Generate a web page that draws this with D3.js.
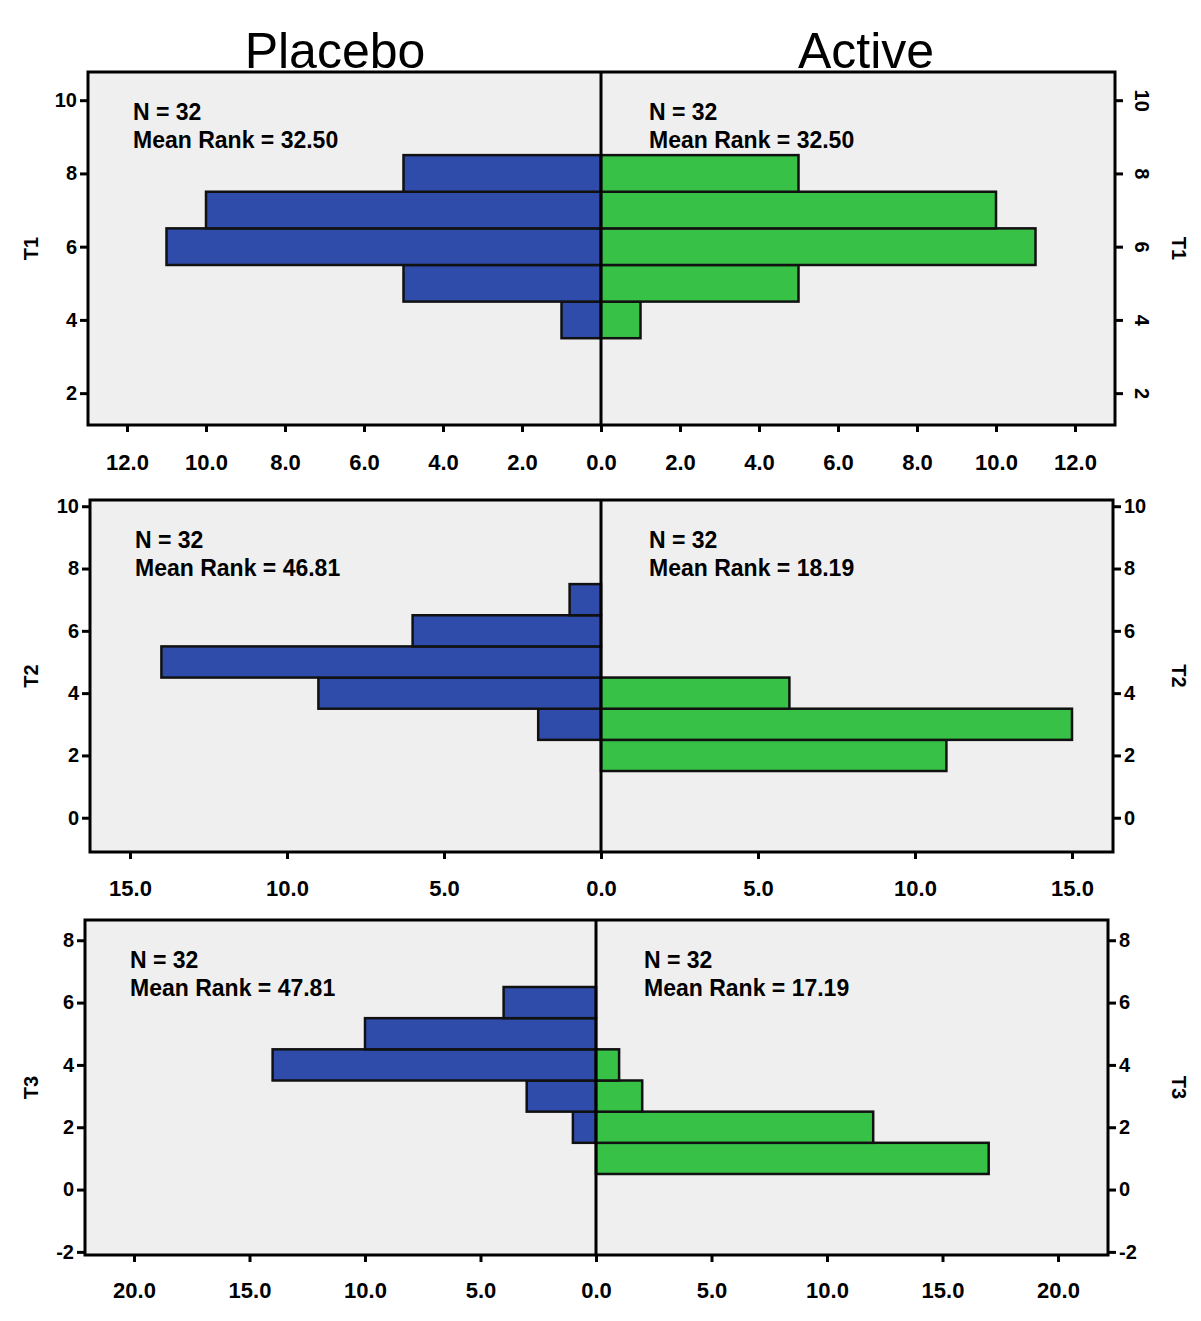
<!DOCTYPE html><html><head><meta charset="utf-8">
<script src="https://cdn.jsdelivr.net/npm/d3@7"></script>
<style>body{margin:0;background:#fff}text{font-family:"Liberation Sans",Arial,sans-serif}</style></head>
<body><svg id="c" width="1201" height="1321"></svg>
<script>
const groups=["Placebo","Active"];
const t1Values=[4,5,6,7,8], t1Placebo=[1,5,11,10,5], t1Active=[1,5,11,10,5];
const t2Values=[2,3,4,5,6,7], t2Placebo=[0,2,9,14,6,1], t2Active=[11,15,6,0,0,0];
const t3Values=[1,2,3,4,5,6], t3Placebo=[0,1,3,14,10,4], t3Active=[17,12,2,1,0,0];
const t1Ticks=[2,4,6,8,10], t2Ticks=[0,2,4,6,8,10], t3Ticks=[-2,0,2,4,6,8];
const t1X=[0,2,4,6,8,10,12], t2X=[0,5,10,15], t3X=[0,5,10,15,20];
const stats=[["N = 32","Mean Rank = 32.50","N = 32","Mean Rank = 32.50"],
 ["N = 32","Mean Rank = 46.81","N = 32","Mean Rank = 18.19"],
 ["N = 32","Mean Rank = 47.81","N = 32","Mean Rank = 17.19"]];
const panels=[
 {name:"T1",vals:t1Values,pl:t1Placebo,ac:t1Active,yt:t1Ticks,xt:t1X,x0:88,x1:1115,y0:72,y1:425,cx:601,xmax:12,xpx:474,yd:[1.13,10.77],lab:462,rot:true},
 {name:"T2",vals:t2Values,pl:t2Placebo,ac:t2Active,yt:t2Ticks,xt:t2X,x0:90,x1:1113,y0:500,y1:852,cx:601,xmax:15,xpx:471,yd:[-1.1,10.2],lab:888,rot:false},
 {name:"T3",vals:t3Values,pl:t3Placebo,ac:t3Active,yt:t3Ticks,xt:t3X,x0:85,x1:1108,y0:920,y1:1255,cx:596,xmax:20,xpx:462,yd:[-2.1,8.65],lab:1290,rot:false}];
const svg=d3.select("#c");
svg.append("text").attr("x",335).attr("y",68).attr("text-anchor","middle").attr("font-size",50).text(groups[0]);
svg.append("text").attr("x",866).attr("y",68).attr("text-anchor","middle").attr("font-size",50).text(groups[1]);
const yf=d=>String(d);
panels.forEach((p,i)=>{
 const g=svg.append("g");
 g.append("rect").attr("x",p.x0).attr("y",p.y0).attr("width",p.x1-p.x0).attr("height",p.y1-p.y0).attr("fill","#efefef").attr("stroke","#000").attr("stroke-width",3);
 const y=d3.scaleLinear().domain(p.yd).range([p.y1,p.y0]);
 const xr=d3.scaleLinear().domain([0,p.xmax]).range([p.cx,p.cx+p.xpx]);
 const xl=d3.scaleLinear().domain([0,p.xmax]).range([p.cx,p.cx-p.xpx]);
 const bar=(arr,sc,col)=>g.selectAll(null).data(p.vals.map((v,k)=>({v,c:arr[k]})).filter(d=>d.c>0)).enter().append("rect")
  .attr("x",d=>Math.min(sc(0),sc(d.c))).attr("width",d=>Math.abs(sc(d.c)-sc(0)))
  .attr("y",d=>y(d.v+0.5)).attr("height",d=>y(d.v-0.5)-y(d.v+0.5))
  .attr("fill",col).attr("stroke","#111").attr("stroke-width",2.5);
 bar(p.pl,xl,"#2f4caa"); bar(p.ac,xr,"#37c247");
 g.append("line").attr("x1",p.cx).attr("x2",p.cx).attr("y1",p.y0).attr("y2",p.y1).attr("stroke","#000").attr("stroke-width",3);
 const la=g.append("g").attr("transform",`translate(${p.x0},0)`).call(d3.axisLeft(y).tickValues(p.yt).tickSize(8).tickFormat(yf));
 const ra=g.append("g").attr("transform",`translate(${p.x1},0)`).call(d3.axisRight(y).tickValues(p.yt).tickSize(8).tickFormat(yf));
 [la,ra].forEach(a=>{a.select(".domain").remove();a.selectAll("line").attr("stroke-width",3);a.selectAll("text").attr("font-size",20).attr("font-weight","bold");});
 if(p.rot) ra.selectAll(".tick text").attr("x",0).attr("dy",0).attr("text-anchor","middle").attr("transform","translate(20,0) rotate(90)");
 const fx=d3.format(".1f");
 const bx1=g.append("g").attr("transform",`translate(0,${p.y1})`).call(d3.axisBottom(xr).tickValues(p.xt).tickSize(7).tickFormat(fx));
 const bx2=g.append("g").attr("transform",`translate(0,${p.y1})`).call(d3.axisBottom(xl).tickValues(p.xt.slice(1)).tickSize(7).tickFormat(fx));
 [bx1,bx2].forEach(a=>{a.select(".domain").remove();a.selectAll("line").attr("stroke-width",3);a.selectAll("text").attr("font-size",22).attr("font-weight","bold").attr("y",p.lab-p.y1-8);});
 const ym=(p.y0+p.y1)/2;
 g.append("text").attr("transform",`translate(38,${ym}) rotate(-90)`).attr("text-anchor","middle").attr("font-size",20).attr("font-weight","bold").text(p.name);
 g.append("text").attr("transform",`translate(1172,${ym}) rotate(90)`).attr("text-anchor","middle").attr("font-size",20).attr("font-weight","bold").text(p.name);
 const s=stats[i];
 [[p.x0+45,0],[p.cx+48,2]].forEach(([tx,k])=>{
  g.append("text").attr("x",tx).attr("y",p.y0+48).attr("font-size",23).attr("font-weight","bold").text(s[k]);
  g.append("text").attr("x",tx).attr("y",p.y0+76).attr("font-size",23).attr("font-weight","bold").text(s[k+1]);
 });
});
</script></body></html>
